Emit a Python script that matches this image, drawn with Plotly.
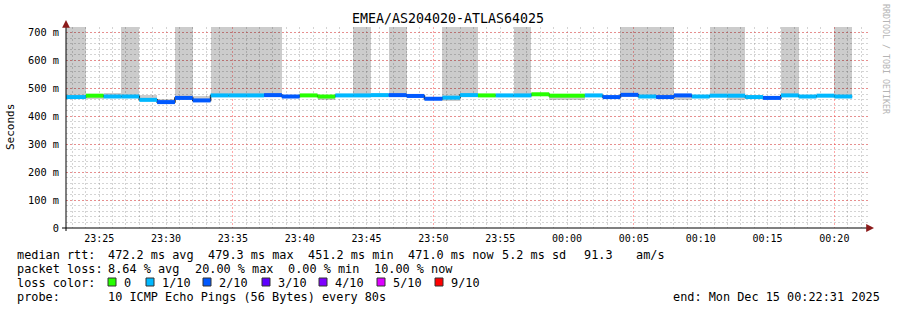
import pandas as pd
import plotly.graph_objects as go

# ---------------- data ----------------
title_text = "EMEA/AS204020-ATLAS64025"
graph_start = pd.Timestamp("2025-12-14 23:22:31")
graph_end = pd.Timestamp("2025-12-15 00:22:31")
first_step_end = pd.Timestamp("2025-12-14 23:24:00")
step_seconds = 80

median_ms = [469, 474, 471, 471, 459, 451, 466, 457, 475, 475,
             475, 476, 471, 475, 471, 475, 475, 476, 476, 473,
             463, 467, 476, 475, 475, 475, 479, 474, 474, 475,
             469, 477, 471, 469, 475, 471, 474, 474, 469, 466,
             475, 471, 474, 471]
smoke_low_ms = [462, 462, 466, 465, 455, 443, 460, 452, 470, 470,
                470, 470, 466, 470, 458, 470, 469, 471, 470, 468,
                458, 455, 470, 470, 470, 470, 473, 460, 460, 470,
                465, 470, 466, 464, 460, 465, 469, 458, 462, 462,
                470, 466, 469, 466]
smoke_high_ms = [720, 480, 482, 720, 478, 463, 720, 474, 720, 720,
                 720, 720, 478, 480, 478, 480, 720, 480, 720, 478,
                 468, 720, 720, 479, 479, 720, 482, 479, 479, 479,
                 474, 720, 720, 720, 480, 477, 720, 720, 478, 471,
                 720, 477, 478, 720]
loss_index = [1, 0, 1, 1, 1, 2, 2, 2, 1, 1,
              1, 2, 2, 0, 0, 1, 1, 1, 2, 2,
              2, 1, 1, 0, 1, 1, 0, 0, 0, 1,
              2, 2, 1, 2, 2, 1, 1, 1, 1, 2,
              1, 1, 1, 1]
loss_colors = ["#26ff00", "#00b8ff", "#0059ff", "#5e00ff", "#7e00ff", "#dd00ff", "#ff0000"]
loss_labels = ["0", "1/10", "2/10", "3/10", "4/10", "5/10", "9/10"]
y_tick_values = [0, 100, 200, 300, 400, 500, 600, 700]
y_tick_text = ["0", "100 m", "200 m", "300 m", "400 m", "500 m", "600 m", "700 m"]
y_max = 720

stats_line1 = [("median rtt:", 16), ("472.2 ms avg", 107), ("479.3 ms max", 207),
               ("451.2 ms min", 307), ("471.0 ms now", 407), ("5.2 ms sd", 501),
               ("91.3", 583), ("am/s", 635)]
stats_line2 = [("packet loss:", 16), ("8.64 % avg", 107), ("20.00 % max", 194),
               ("0.00 % min", 287), ("10.00 % now", 373)]
probe_text = "10 ICMP Echo Pings (56 Bytes) every 80s"
end_text = "end: Mon Dec 15 00:22:31 2025"
side_text = "RRDTOOL / TOBI OETIKER"

# ---------------- geometry helpers ----------------
W, H = 897, 310
L, R, T, B = 66, 29, 27, 82
PW, PH = W - L - R, H - T - B
FONT = "DejaVu Sans Mono"


def px(x):
    return (x - L) / PW


def py(y):
    return (H - B - y) / PH


n = len(median_ms)
ends = [first_step_end + pd.Timedelta(seconds=step_seconds * i) for i in range(n)]
starts = [e - pd.Timedelta(seconds=step_seconds) for e in ends]
starts[0] = graph_start
mids = [s + (e - s) / 2 for s, e in zip(starts, ends)]
widths = [(e - s).total_seconds() * 1000 for s, e in zip(starts, ends)]

fig = go.Figure()

# smoke
fig.add_trace(go.Bar(
    x=mids, base=smoke_low_ms,
    y=[h - l for h, l in zip(smoke_high_ms, smoke_low_ms)],
    width=widths, marker=dict(color="rgba(0,0,0,0.2)", line=dict(width=0)),
    showlegend=False, hoverinfo="skip"))

# dark median step line
fig.add_trace(go.Scatter(
    x=starts + [ends[-1]], y=median_ms + [median_ms[-1]],
    mode="lines", line=dict(shape="hv", color="#202020", width=1.5),
    showlegend=False, hoverinfo="skip"))

# colored median segments by loss
for ci, col in enumerate(loss_colors):
    xs, ys = [], []
    for i in range(n):
        if loss_index[i] == ci:
            xs += [starts[i], ends[i], None]
            ys += [median_ms[i], median_ms[i], None]
    if xs:
        fig.add_trace(go.Scatter(x=xs, y=ys, mode="lines",
                                 line=dict(color=col, width=4),
                                 showlegend=False, hoverinfo="skip"))

# dummy trace for label axis
fig.add_trace(go.Scatter(x=[graph_start], y=[None], xaxis="x2", mode="markers",
                         showlegend=False, hoverinfo="skip"))

minor_gray = "rgba(120,120,120,0.32)"
major_red = "rgba(255,60,60,0.45)"
DASH = "2px,2px"

fig.update_layout(
    width=W, height=H,
    margin=dict(l=L, r=R, t=T, b=B, autoexpand=False),
    paper_bgcolor="white", plot_bgcolor="white",
    barmode="overlay", bargap=0,
    font=dict(family=FONT, color="black"),
    xaxis=dict(
        type="date", range=[graph_start, graph_end],
        tickmode="linear", tick0="2025-12-14 23:35:00", dtick=900000,
        showticklabels=False, ticks="",
        showgrid=True, gridcolor=major_red, griddash=DASH, gridwidth=1,
        minor=dict(tick0="2025-12-14 23:22:00", dtick=60000, showgrid=True,
                   gridcolor=minor_gray, griddash=DASH, gridwidth=1),
        showline=False, zeroline=False,
    ),
    xaxis2=dict(
        type="date", range=[graph_start, graph_end], overlaying="x", side="bottom",
        tickmode="linear", tick0="2025-12-14 23:25:00", dtick=300000,
        tickformat="%H:%M", showgrid=False, ticks="", showline=False, zeroline=False,
        tickfont=dict(family=FONT, size=10, color="black"), ticklabelstandoff=3,
    ),
    yaxis=dict(
        range=[0, y_max], tickmode="array", tickvals=y_tick_values, ticktext=y_tick_text,
        tickfont=dict(family=FONT, size=10.3, color="black"), ticks="", ticklabelstandoff=6,
        showgrid=True, gridcolor=major_red, griddash=DASH, gridwidth=1,
        minor=dict(dtick=20, tick0=0, showgrid=True, gridcolor=minor_gray,
                   griddash=DASH, gridwidth=1),
        showline=False, zeroline=False,
    ),
)

ann = []
ann.append(dict(text=title_text, x=px(448), y=py(19), xref="paper", yref="paper",
                xanchor="center", yanchor="middle", showarrow=False,
                font=dict(family=FONT, size=13.3, color="black")))
ann.append(dict(text="Seconds", x=px(11), y=py(127), xref="paper", yref="paper",
                xanchor="center", yanchor="middle", showarrow=False, textangle=-90,
                font=dict(family=FONT, size=11, color="black")))
ann.append(dict(text=side_text, x=px(886), y=py(59), xref="paper", yref="paper",
                xanchor="center", yanchor="middle", showarrow=False, textangle=90,
                font=dict(family=FONT, size=8.3, color="#b4b4b4")))

for row, ypix in ((stats_line1, 254.5), (stats_line2, 268.5)):
    for txt, xpix in row:
        ann.append(dict(text=txt, x=px(xpix - 1), y=py(ypix), xref="paper", yref="paper",
                        xanchor="left", yanchor="middle", showarrow=False,
                        font=dict(family=FONT, size=11.85, color="black")))

ann.append(dict(text="loss color:", x=px(15), y=py(282.5), xref="paper", yref="paper",
                xanchor="left", yanchor="middle", showarrow=False,
                font=dict(family=FONT, size=11.85, color="black")))
sq_x = [108, 146, 203, 262, 319, 377, 435]
shapes = []
for xs_, col, lab in zip(sq_x, loss_colors, loss_labels):
    shapes.append(dict(type="rect", xref="paper", yref="paper",
                       x0=px(xs_), x1=px(xs_ + 8), y0=py(286), y1=py(278),
                       fillcolor=col, line=dict(color="#333333", width=1)))
    ann.append(dict(text=lab, x=px(xs_ + 14), y=py(282.5), xref="paper", yref="paper",
                    xanchor="left", yanchor="middle", showarrow=False,
                    font=dict(family=FONT, size=11.85, color="black")))

ann.append(dict(text="probe:", x=px(15), y=py(296.5), xref="paper", yref="paper",
                xanchor="left", yanchor="middle", showarrow=False,
                font=dict(family=FONT, size=11.85, color="black")))
ann.append(dict(text=probe_text, x=px(106), y=py(296.5), xref="paper", yref="paper",
                xanchor="left", yanchor="middle", showarrow=False,
                font=dict(family=FONT, size=11.85, color="black")))
ann.append(dict(text=end_text, x=px(882), y=py(296.5), xref="paper", yref="paper",
                xanchor="right", yanchor="middle", showarrow=False,
                font=dict(family=FONT, size=11.85, color="black")))

# axis lines (extended like rrdtool) and arrows
shapes.append(dict(type="line", xref="paper", yref="paper", x0=px(62), x1=px(869),
                   y0=py(228), y1=py(228), line=dict(color="black", width=1)))
shapes.append(dict(type="line", xref="paper", yref="paper", x0=px(66), x1=px(66),
                   y0=py(231), y1=py(24), line=dict(color="black", width=1)))
ann.append(dict(text="", x=px(66), y=py(20), xref="paper", yref="paper",
                showarrow=True, ax=0, ay=5, arrowhead=2, arrowsize=1.3, arrowwidth=1.2,
                arrowcolor="#8b1a1a"))
ann.append(dict(text="", x=px(874), y=py(228), xref="paper", yref="paper",
                showarrow=True, ax=-5, ay=0, arrowhead=2, arrowsize=1.3, arrowwidth=1.2,
                arrowcolor="#8b1a1a"))

fig.update_layout(annotations=ann, shapes=shapes)
fig.write_html("out.html")
